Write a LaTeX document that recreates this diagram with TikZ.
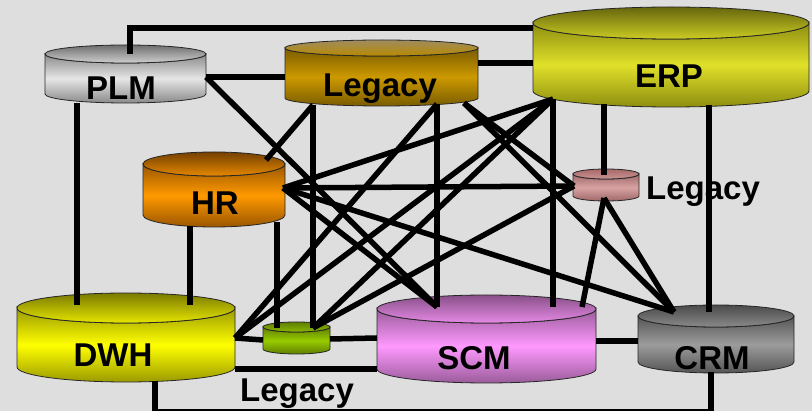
\documentclass[tikz,border=0pt]{standalone}
\usepackage{fontspec}
\setmainfont{Liberation Sans}
\definecolor{bgc}{HTML}{DEDEDE}
\definecolor{plmM}{HTML}{E6E6E6}\definecolor{plmD}{HTML}{8A8A8A}\definecolor{plmT}{HTML}{6E6E6E}
\definecolor{legM}{HTML}{CC9900}\definecolor{legD}{HTML}{7A5C00}\definecolor{legT}{HTML}{A08C60}
\definecolor{erpM}{HTML}{E0E02A}\definecolor{erpD}{HTML}{8E8E10}\definecolor{erpT}{HTML}{66660E}
\definecolor{hrM}{HTML}{FF9900}\definecolor{hrD}{HTML}{9A5600}\definecolor{hrT}{HTML}{744000}
\definecolor{pnkM}{HTML}{D9A3A3}\definecolor{pnkD}{HTML}{A06868}\definecolor{pnkT}{HTML}{A86868}
\definecolor{dwhM}{HTML}{FFFF00}\definecolor{dwhD}{HTML}{9A9A00}\definecolor{dwhT}{HTML}{7A7A00}
\definecolor{grnM}{HTML}{99CC00}\definecolor{grnD}{HTML}{5E7E00}\definecolor{grnT}{HTML}{5E7E00}
\definecolor{scmM}{HTML}{FF99FF}\definecolor{scmD}{HTML}{9A5C9A}\definecolor{scmT}{HTML}{885088}
\definecolor{crmM}{HTML}{9C9C9C}\definecolor{crmD}{HTML}{555555}\definecolor{crmT}{HTML}{4A4A4A}
\tikzset{
  conn/.style={line width=5.5pt, black, line join=miter},
  lbl/.style={font=\bfseries\fontsize{33}{33}\selectfont, inner sep=0pt, anchor=base},
  cylline/.style={draw=black!85, line width=0.8pt},
}
% #1 name, #2 x1, #3 x2, #4 top cy, #5 bottom cy, #6 ry, #7 mid, #8 dark, #9 lid top
\newcommand\dbcyl[9]{%
  \pgfmathsetmacro\cylcx{(#2+#3)/2}%
  \pgfmathsetmacro\cylrx{(#3-#2)/2}%
  \pgfmathsetmacro\cylcy{(#4+#5)/2}%
  \path[cylline, top color=#8, bottom color=#8, middle color=#7]
    (#2,#4) -- (#2,#5) arc[start angle=180, end angle=360, x radius=\cylrx pt, y radius=#6pt]
    -- (#3,#4) arc[start angle=0, end angle=-180, x radius=\cylrx pt, y radius=#6pt] -- cycle;
  \path[cylline, top color=#9, bottom color=#7!75!#8] (\cylcx,#4) ellipse[x radius=\cylrx pt, y radius=#6pt];
  \node[inner sep=0pt, minimum width=\cylrx*2pt, minimum height=#5-#4] (#1) at (\cylcx,\cylcy) {};
}
\begin{document}
\begin{tikzpicture}[x=1pt, y=-1pt]
\useasboundingbox (0,0) rectangle (812,411);
\fill[bgc] (0,0) rectangle (812,411);

% cylinders
\dbcyl{plm}{45}{206}{54}{94}{9}{plmM}{plmD}{plmT}
\dbcyl{leg}{285}{478}{48}{98}{8}{legM}{legD}{legT}
\dbcyl{erp}{533}{809}{23}{91}{16}{erpM}{erpD}{erpT}
\dbcyl{hr}{143}{285}{164}{215}{12}{hrM}{hrD}{hrT}
\dbcyl{pnk}{573}{639}{174}{196}{5}{pnkM}{pnkD}{pnkT}
\dbcyl{dwh}{17}{235}{308}{367}{15}{dwhM}{dwhD}{dwhT}
\dbcyl{grn}{263}{330}{327}{349}{5}{grnM}{grnD}{grnT}
\dbcyl{scm}{377}{596}{309}{369}{14}{scmM}{scmD}{scmT}
\dbcyl{crm}{638}{794}{316}{362}{11}{crmM}{crmD}{crmT}

% labels
\node[lbl] (tplm) at (121,100) {PLM};
\node[lbl] (tleg) at (380,97) {Legacy};
\node[lbl] (terp) at (669,88) {ERP};
\node[lbl] (thr) at (215,215) {HR};
\node[lbl] (tpnk) at (703,200) {Legacy};
\node[lbl] (tdwh) at (113,367) {DWH};
\node[lbl] (tgrn) at (297,402) {Legacy};
\node[lbl] (tscm) at (474,370) {SCM};
\node[lbl] (tcrm) at (712,370) {CRM};

% connection points
\coordinate (plmN) at (130,54);
\coordinate (erpW1) at (533,28);
\coordinate (plmE) at (206,77);
\coordinate (legW) at (285,77);
\coordinate (scmNW) at (437,307);
\coordinate (plmS) at (77,103);
\coordinate (dwhN1) at (77,305);
\coordinate (legE) at (478,63);
\coordinate (erpW2) at (533,63);
\coordinate (legSW) at (313,105);
\coordinate (hrNE) at (266,160);
\coordinate (grnN1) at (313,328);
\coordinate (legS) at (437,104);
\coordinate (dwhE) at (235,338);
\coordinate (legSE) at (464,103);
\coordinate (pnkW) at (574,186);
\coordinate (crmNW) at (674,312);
\coordinate (erpSW) at (553,99);
\coordinate (hrE) at (283,188);
\coordinate (scmN) at (553,307);
\coordinate (erpS1) at (604,104);
\coordinate (pnkN) at (604,175);
\coordinate (erpS2) at (709,105);
\coordinate (crmN) at (709,312);
\coordinate (hrS1) at (190,226);
\coordinate (dwhN2) at (190,305);
\coordinate (hrS2) at (277,222);
\coordinate (grnN2) at (277,328);
\coordinate (pnkS) at (604,198);
\coordinate (scmNE) at (582,307);
\coordinate (grnW) at (263,340);
\coordinate (dwhE2) at (235,369);
\coordinate (scmW2) at (377,369);
\coordinate (dwhS) at (155,381);
\coordinate (crmS) at (711,372);
\coordinate (grnE) at (330,339);
\coordinate (scmW) at (377,338);
\coordinate (scmE) at (596,341);
\coordinate (crmW) at (638,341);

% connectors
\draw[conn] (plmN) |- (erpW1);
\draw[conn] (plmE) -- (legW);
\draw[conn] (plmE) -- (scmNW);
\draw[conn] (plmS) -- (dwhN1);
\draw[conn] (legE) -- (erpW2);
\draw[conn] (legSW) -- (hrNE);
\draw[conn] (legSW) -- (grnN1);
\draw[conn] (legS) -- (scmNW);
\draw[conn] (legS) -- (dwhE);
\draw[conn] (legSE) -- (pnkW);
\draw[conn] (legSE) -- (crmNW);
\draw[conn] (erpSW) -- (hrE);
\draw[conn] (erpSW) -- (dwhE);
\draw[conn] (erpSW) -- (grnN1);
\draw[conn] (erpSW) -- (scmN);
\draw[conn] (erpS1) -- (pnkN);
\draw[conn] (erpS2) -- (crmN);
\draw[conn] (hrE) -- (pnkW);
\draw[conn] (hrE) -- (scmNW);
\draw[conn] (hrE) -- (crmNW);
\draw[conn] (hrS1) -- (dwhN2);
\draw[conn] (hrS2) -- (grnN2);
\draw[conn] (pnkS) -- (scmNE);
\draw[conn] (pnkS) -- (crmNW);
\draw[conn] (grnN1) -- (pnkW);
\draw[conn] (dwhE) -- (grnW);
\draw[conn] (dwhE2) -- (scmW2);
\draw[conn] (grnE) -- (scmW);
\draw[conn] (scmE) -- (crmW);
\draw[conn] (dwhS) -- ++(0,31) -| (crmS);
\end{tikzpicture}
\end{document}
